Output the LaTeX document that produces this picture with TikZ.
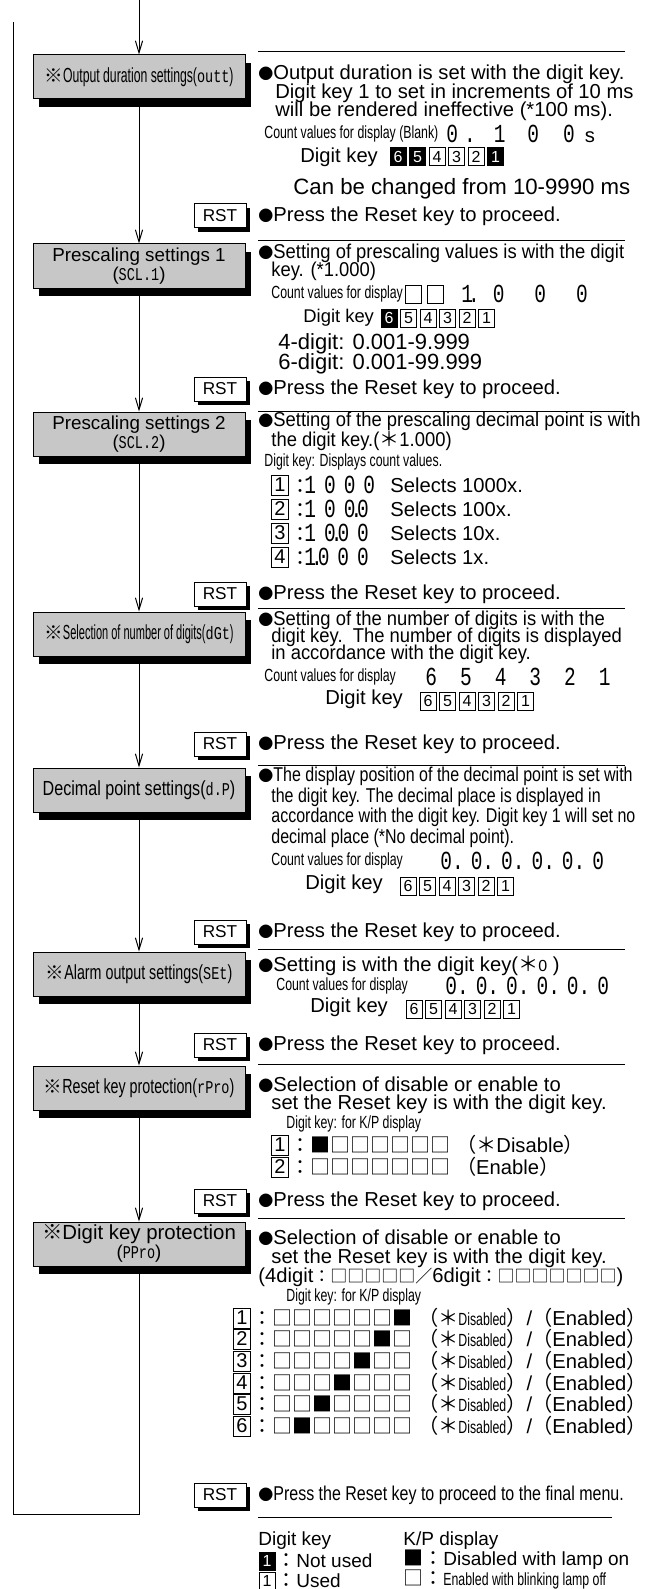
\documentclass[tikz,border=0pt]{standalone}
\usepackage{fontspec}
\setmainfont{Liberation Sans}
\newfontfamily\condfont[FakeStretch=0.92]{Liberation Sans}
\newfontfamily\narfont[FakeStretch=0.8]{Liberation Sans}
\newfontfamily\slimfont[FakeStretch=0.7]{Liberation Sans}
\newfontfamily\boxfont[FakeStretch=0.79]{Liberation Sans}
\newfontfamily\boxnar[FakeStretch=0.7]{Liberation Sans}
\newfontfamily\boxslim[FakeStretch=0.6]{Liberation Sans}
\newfontfamily\boxthin[FakeStretch=0.54]{Liberation Sans}
\newfontfamily\cjkfont{Noto Sans CJK JP}
\newfontfamily\segfont[FakeStretch=0.75]{Liberation Mono}
\usetikzlibrary{arrows.meta,shadows}

\newcommand{\fm}{\fontsize{10.1}{12}\selectfont}
\newcommand{\fc}{\condfont\fontsize{10}{12}\selectfont}
\newcommand{\fn}{\narfont\fontsize{10}{12}\selectfont}
\newcommand{\fs}{\slimfont\fontsize{8.8}{10}\selectfont}
\newcommand{\fb}{\fontsize{10.2}{11}\selectfont}
\newcommand{\fl}{\fontsize{9.5}{11}\selectfont}
\newcommand{\bul}{\smash{{\cjkfont\fontsize{7.5}{8}\selectfont ●}}}
\newcommand{\kome}{\smash{{\cjkfont ※}}}
\newcommand{\col}{\smash{{\cjkfont ：}}}
\newcommand{\on}{\smash{{\cjkfont ■}}}
\newcommand{\off}{\smash{{\cjkfont □}}}
\newcommand{\bigast}{\smash{{\cjkfont ＊}}}
\newcommand{\seg}[1]{{\segfont\fontsize{13}{13}\selectfont #1}}
\newcommand{\bseg}[1]{{\segfont\fontsize{9}{9}\selectfont #1}}
\newcommand{\dt}{\hspace{-2.5pt}.\hspace{-2.5pt}}

\begin{document}
\begin{tikzpicture}[x=0.5pt,y=-0.5pt,
  stepbox/.style={draw,line width=0.5pt,fill=black!22,minimum width=106pt,minimum height=22pt,inner sep=1pt,align=center,font=\fontsize{9.3}{10.5}\selectfont,drop shadow={shadow xshift=3pt,shadow yshift=-4pt,fill=black,opacity=1}},
  rst/.style={draw,line width=0.5pt,fill=white,minimum width=26pt,minimum height=12pt,inner sep=0pt,font=\fontsize{8.6}{9}\selectfont,drop shadow={shadow xshift=2.2pt,shadow yshift=-2pt,fill=black,opacity=1}},
  key/.style={draw,line width=0.5pt,fill=white,minimum width=8pt,minimum height=9pt,inner sep=0pt,font=\fontsize{8}{8}\selectfont},
  keyb/.style={key,fill=black,text=white},
  bigkey/.style={key,minimum width=8.5pt,minimum height=10pt,font=\fontsize{10}{10}\selectfont},
  txt/.style={anchor=west,inner sep=0pt},
  flow/.style={line width=0.5pt,-{Straight Barb[length=6pt,width=3.6pt]}},
  sep/.style={line width=0.5pt}]
\useasboundingbox (0,0) rectangle (644,1589);

% flow of the settings
\node[stepbox] (b1) at (139,77) {\kome{\boxslim\fb Output duration settings(\bseg{outt})}};
\node[stepbox] (b2) at (139,266) {\fontsize{9.4}{10}\selectfont Prescaling settings 1\\[-1pt](\bseg{SCL.1})};
\node[stepbox] (b3) at (139,434) {\fontsize{9.4}{10}\selectfont Prescaling settings 2\\[-1pt](\bseg{SCL.2})};
\node[stepbox] (b4) at (139,634) {\kome{\boxthin\fb Selection of number of digits(\bseg{dGt})}};
\node[stepbox] (b5) at (139,790) {\boxfont\fb Decimal point settings(\bseg{d.P})};
\node[stepbox] (b6) at (139,974) {\kome{\boxnar\fb Alarm output settings(\bseg{SEt})}};
\node[stepbox] (b7) at (139,1088) {\kome{\boxnar\fb Reset key protection(\bseg{rPro})}};
\node[stepbox] (b8) at (139,1244) {\fontsize{10.2}{10}\selectfont\kome Digit key protection\\[-1pt](\bseg{PPro})};

\coordinate (top) at (139,0);
\coordinate (lb) at (13,1514);
\coordinate (lt) at (13,22);
\draw[flow] (top) -- (b1);
\foreach \a/\b in {b1/b2,b2/b3,b3/b4,b4/b5,b5/b6,b6/b7,b7/b8}
  \draw[flow] (\a) -- (\b);
\draw[sep] (b8) |- (lb) -- (lt);

\foreach \n/\y in {1/216,2/389,3/594,4/744,5/932,6/1045,7/1201,8/1495}
  \node[rst] (r\n) at (220,\y) {RST};

% separators
\foreach \y in {52,241,411,608,765,949,1064,1218}
  \draw[sep] (258,\y) -- (625,\y);
\draw[sep] (258,1517) -- (612,1517);

% output duration
\node[txt] (t1a) at (258,74) {\bul\fm Output duration is set with the digit key.};
\node[txt] (t1b) at (275,93) {\fm Digit key 1 to set in increments of 10 ms};
\node[txt] (t1c) at (275,111) {\fm will be rendered ineffective (*100 ms).};
\node[txt] (t1d) at (264,134) {\fs Count values for display (Blank)};
\node[txt] (t1e) at (446,134) {\seg{0\hspace{3pt}.\hspace{9pt}1\hspace{11pt}0\hspace{12pt}0}\hspace{5pt}{\fm s}};
\node[txt] (t1f) at (300,157) {\fm Digit key};
\foreach \d/\s [count=\i from 0] in {6/keyb,5/keyb,4/key,3/key,2/key,1/keyb}
  \node[\s] (k1\d) at ({398+19.5*\i},157) {\d};
\node[txt] (t1h) at (293,189) {\fontsize{11.1}{12}\selectfont Can be changed from 10-9990 ms};
\node[txt] (p1) at (258,216) {\bul\fm Press the Reset key to proceed.};

% prescaling 1
\node[txt] (t2a) at (258,253) {\bul\fc Setting of prescaling values is with the digit};
\node[txt] (t2b) at (271,271) {\fc key. (*1.000)};
\node[txt] (t2c) at (271,294) {\fs Count values for display};
\node[key] (e21) at (413,294) {};
\node[key] (e22) at (435,294) {};
\node[txt] (t2e) at (461,294) {\seg{1\dt\hspace{9pt}0\hspace{15pt}0\hspace{15pt}0}};
\node[txt] (t2f) at (303,318) {\fontsize{9.2}{12}\selectfont Digit key};
\foreach \d/\s [count=\i from 0] in {6/keyb,5/key,4/key,3/key,2/key,1/key}
  \node[\s] (k2\d) at ({389+19.5*\i},318) {\d};
\node[txt] (t2h) at (278,344) {\fontsize{11}{12}\selectfont 4-digit: 0.001-9.999};
\node[txt] (t2i) at (278,364) {\fontsize{11}{12}\selectfont 6-digit: 0.001-99.999};
\node[txt] (p2) at (258,389) {\bul\fm Press the Reset key to proceed.};

% prescaling 2
\node[txt] (t3a) at (258,421) {\bul\fc Setting of the prescaling decimal point is with};
\node[txt] (t3b) at (271,441) {\fc the digit key.(\bigast1.000)};
\node[txt] (t3c) at (264,462) {\fs Digit key: Displays count values.};
\foreach \k/\d/\s/\y in {1/{1\hspace{4pt}0\hspace{4pt}0\hspace{4pt}0}/1000/485,
                        2/{1\hspace{4pt}0\hspace{4pt}0\dt 0}/100/509,
                        3/{1\hspace{4pt}0\dt 0\hspace{4pt}0}/10/533,
                        4/{1\dt 0\hspace{4pt}0\hspace{4pt}0}/1/557}{
  \node[bigkey] (k3\k) at (280,\y) {\k};
  \node[txt] (v3\k) at (290,\y) {\col\hspace{-3pt}\seg{\d}};
  \node[txt] (s3\k) at (390,\y) {\fm Selects \s x.};
}
\node[txt] (p3) at (258,594) {\bul\fm Press the Reset key to proceed.};

% number of digits
\node[txt] (t4a) at (258,620) {\bul\fc Setting of the number of digits is with the};
\node[txt] (t4b) at (271,637) {\fc digit key.\ \ The number of digits is displayed};
\node[txt] (t4c) at (271,654) {\fc in accordance with the digit key.};
\node[txt] (t4d) at (264,677) {\fs Count values for display};
\node[txt] (t4e) at (425,677) {\seg{6\hspace{11.5pt}5\hspace{11.5pt}4\hspace{11.5pt}3\hspace{11.5pt}2\hspace{11.5pt}1}};
\node[txt] (t4f) at (325,699) {\fm Digit key};
\foreach \d [count=\i from 0] in {6,5,4,3,2,1}
  \node[key] (k4\d) at ({428+19.5*\i},701) {\d};
\node[txt] (p4) at (258,744) {\bul\fm Press the Reset key to proceed.};

% decimal point
\node[txt] (t5a) at (258,776) {\bul\fn The display position of the decimal point is set with};
\node[txt] (t5b) at (271,797) {\fn the digit key. The decimal place is displayed in};
\node[txt] (t5c) at (271,817) {\fn accordance with the digit key. Digit key 1 will set no};
\node[txt] (t5d) at (271,838) {\fn decimal place (*No decimal point).};
\node[txt] (t5e) at (271,861) {\fs Count values for display};
\node[txt] (t5f) at (440,861) {\seg{0.\hspace{3.5pt}0.\hspace{3.5pt}0.\hspace{3.5pt}0.\hspace{3.5pt}0.\hspace{3.5pt}0}};
\node[txt] (t5g) at (305,884) {\fm Digit key};
\foreach \d [count=\i from 0] in {6,5,4,3,2,1}
  \node[key] (k5\d) at ({408+19.5*\i},886) {\d};
\node[txt] (p5) at (258,932) {\bul\fm Press the Reset key to proceed.};

% alarm output
\node[txt] (t6a) at (258,966) {\bul\fm Setting is with the digit key(\bigast{\fontsize{8}{8}\selectfont 0} )};
\node[txt] (t6b) at (276,986) {\fs Count values for display};
\node[txt] (t6c) at (445,986) {\seg{0.\hspace{3.5pt}0.\hspace{3.5pt}0.\hspace{3.5pt}0.\hspace{3.5pt}0.\hspace{3.5pt}0}};
\node[txt] (t6d) at (310,1007) {\fm Digit key};
\foreach \d [count=\i from 0] in {6,5,4,3,2,1}
  \node[key] (k6\d) at ({414+19.5*\i},1009) {\d};
\node[txt] (p6) at (258,1045) {\bul\fm Press the Reset key to proceed.};

% reset key protection
\node[txt] (t7a) at (258,1084) {\bul\fm Selection of disable or enable to};
\node[txt] (t7b) at (271,1104) {\fm set the Reset key is with the digit key.};
\node[txt] (t7c) at (286,1124) {\fs Digit key: for K/P display};
\node[bigkey] (k71) at (280,1145) {1};
\node[txt] (m71) at (290,1145) {\col\on\off\off\off\off\off\off\fm\ \smash{{\cjkfont （＊}}Disable\smash{{\cjkfont ）}}};
\node[bigkey] (k72) at (280,1167) {2};
\node[txt] (m72) at (290,1167) {\col\off\off\off\off\off\off\off\fm\ \smash{{\cjkfont （}}Enable\smash{{\cjkfont ）}}};
\node[txt] (p7) at (258,1201) {\bul\fm Press the Reset key to proceed.};

% digit key protection
\node[txt] (t8a) at (258,1237) {\bul\fm Selection of disable or enable to};
\node[txt] (t8b) at (271,1258) {\fm set the Reset key is with the digit key.};
\node[txt] (t8c) at (258,1277) {\fm (4digit\smash{{\cjkfont\fontsize{8.5}{9}\selectfont ：□□□□□／}}6digit\smash{{\cjkfont\fontsize{8.5}{9}\selectfont ：□□□□□□□}})};
\node[txt] (t8d) at (286,1297) {\fs Digit key: for K/P display};
\foreach \k/\m/\y in {1/{\off\off\off\off\off\off\on}/1318,
                     2/{\off\off\off\off\off\on\off}/1339,
                     3/{\off\off\off\off\on\off\off}/1361,
                     4/{\off\off\off\on\off\off\off}/1383,
                     5/{\off\off\on\off\off\off\off}/1404,
                     6/{\off\on\off\off\off\off\off}/1426}{
  \node[bigkey] (k8\k) at (242,\y) {\k};
  \node[txt] (m8\k) at (252,\y) {\col\m\fm\ \smash{{\cjkfont （＊}}{\fs Disabled}\smash{{\cjkfont ）}}/\smash{{\cjkfont （}}Enabled\smash{{\cjkfont ）}}};
}
\node[txt] (p8) at (258,1495) {\bul\fn Press the Reset key to proceed to the final menu.};

% legend
\node[txt] (l1) at (258,1541) {\fl Digit key};
\node[txt] (l2) at (403,1541) {\fl K/P display};
\node[keyb] (lk1) at (267,1561) {1};
\node[txt] (l3) at (276,1561) {\col\fl Not used};
\node[key] (lk2) at (267,1581) {1};
\node[txt] (l4) at (276,1581) {\col\fl Used};
\node[txt] (l5) at (403,1561) {\on\col\fl Disabled with lamp on};
\node[txt] (l6) at (403,1581) {\off\col\fs Enabled with blinking lamp off};
\end{tikzpicture}
\end{document}
